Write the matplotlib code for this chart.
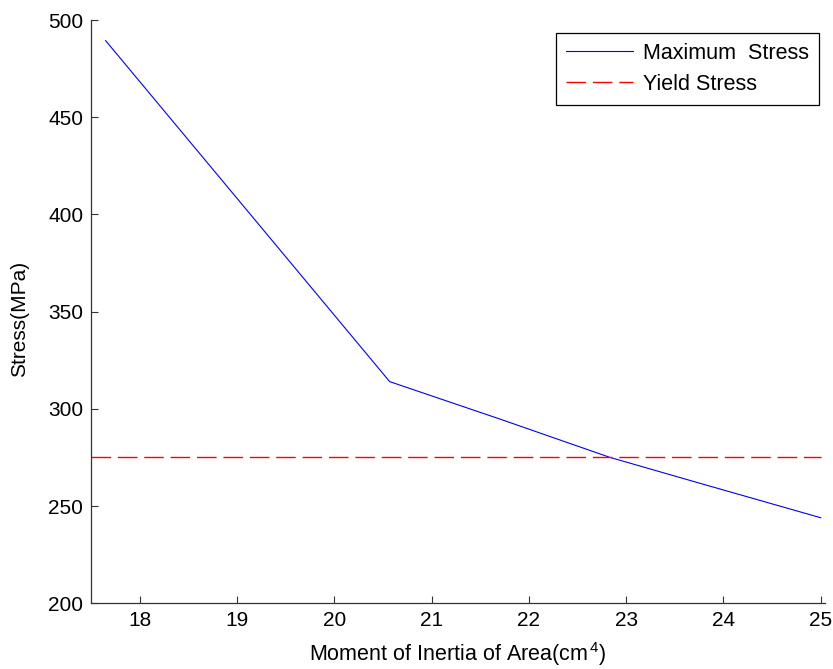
import matplotlib
matplotlib.use("Agg")
import matplotlib.pyplot as plt

plt.rcParams['font.family'] = ['Liberation Sans', 'DejaVu Sans']
plt.rcParams['mathtext.fontset'] = 'custom'
plt.rcParams['mathtext.rm'] = 'Liberation Sans'
plt.rcParams['mathtext.it'] = 'Liberation Sans'
plt.rcParams['lines.scale_dashes'] = False

# Data
inertia = [17.65, 20.57, 21.70, 22.83, 23.76, 25.0]
max_stress = [489.4, 314.0, 294.8, 275.1, 261.7, 244.0]
yield_x = [17.5, 25.0]
yield_stress = [275, 275]
xticks = [18, 19, 20, 21, 22, 23, 24, 25]
yticks = [200, 250, 300, 350, 400, 450, 500]

fig = plt.figure(figsize=(8.33, 6.69), dpi=100)
ax = fig.add_axes([91/833, 1-603.3/669, (824.6-91)/833, (603.3-20)/669])

ax.plot(inertia, max_stress, color='#0000ff', lw=0.8, label='Maximum  Stress')
ax.plot(yield_x, yield_stress, color='#ff0000', lw=1.0, dashes=(14, 5), label='Yield Stress')

ax.set_xlim(17.5, 25.04)
ax.set_ylim(200, 500)
ax.set_xticks(xticks)
ax.set_yticks(yticks)

for s in ['top', 'right']:
    ax.spines[s].set_visible(False)
for s in ['left', 'bottom']:
    ax.spines[s].set_color('#333333')
    ax.spines[s].set_linewidth(0.9)

ax.tick_params(direction='in', length=5, width=0.8, colors='#333333',
               labelsize=15, labelcolor='black', pad=5.5)

ax.set_xlabel('Moment of Inertia of Area(cm$^{\\,4}$)', fontsize=15.5, labelpad=7.5)
ax.set_ylabel('Stress(MPa)', fontsize=15)
ax.yaxis.set_label_coords(-0.085, 0.487)

leg = ax.legend(loc='upper right', bbox_to_anchor=(819/833, 1-32.7/669),
                bbox_transform=fig.transFigure, borderaxespad=0,
                fontsize=15.5, fancybox=False, framealpha=1, edgecolor='black',
                handlelength=3.1, handletextpad=0.45, labelspacing=0.45,
                borderpad=0.48)
leg.get_frame().set_linewidth(0.9)

fig.savefig('out.png', dpi=100)
